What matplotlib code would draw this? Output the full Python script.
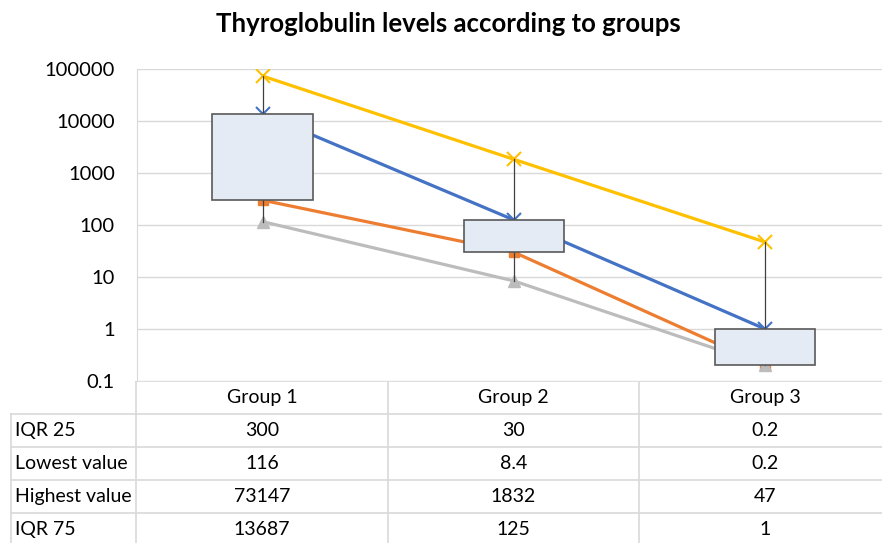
import numpy as np
import matplotlib
matplotlib.use('Agg')
import matplotlib.pyplot as plt
from matplotlib.patches import Rectangle

plt.rcParams['font.family'] = ['Lato', 'DejaVu Sans']

# data
groups = ['Group 1', 'Group 2', 'Group 3']
iqr25 = [300, 30, 0.2]
lowest = [116, 8.4, 0.2]
highest = [73147, 1832, 47]
iqr75 = [13687, 125, 1]

row_names = ['IQR 25', 'Lowest value', 'Highest value', 'IQR 75']
row_text = [['300', '30', '0.2'],
            ['116', '8.4', '0.2'],
            ['73147', '1832', '47'],
            ['13687', '125', '1']]

yticks = [0.1, 1, 10, 100, 1000, 10000, 100000]
yticklabels = ['0.1', '1', '10', '100', '1000', '10000', '100000']

W, H = 882, 543
fig = plt.figure(figsize=(W / 100, H / 100), dpi=100)

grid_c = '#D9D9D9'
xlo, xhi = -0.5, (882 - 262) / 251.5

ax = fig.add_axes([137 / W, (H - 381) / H, (W - 137) / W, 312 / H])
x = np.arange(len(groups))

# series lines (drawn under the boxes)
ax.plot(x, iqr75, color='#4472C4', lw=2.3, marker='x', ms=10, mew=1.5, zorder=2)
ax.plot(x, iqr25, color='#ED7D31', lw=2.3, marker='s', ms=7, zorder=2)
ax.plot(x, lowest, color='#BCBCBC', lw=2.3, marker='^', ms=8, zorder=2)
ax.plot(x, highest, color='#FFC000', lw=2.3, marker='x', ms=10, mew=1.5, zorder=2)

# high-low whiskers
for i in x:
    ax.plot([i, i], [lowest[i], highest[i]], color='#404040', lw=0.9, zorder=2.5)

# IQR boxes
for i in x:
    ax.add_patch(Rectangle((i - 0.2, iqr25[i]), 0.4, iqr75[i] - iqr25[i],
                           facecolor='#E4EBF5', edgecolor='#595959', lw=1.2, zorder=3))

ax.set_yscale('log')
ax.set_ylim(0.1, 100000)
ax.set_xlim(xlo, xhi)
ax.set_yticks(yticks)
ax.set_yticklabels(yticklabels, fontsize=14.5)
ax.minorticks_off()
ax.yaxis.set_tick_params(length=0, pad=16)
ax.set_xticks([])
ax.grid(axis='y', color=grid_c, lw=1)
ax.set_axisbelow(True)
for s in ['top', 'right', 'bottom']:
    ax.spines[s].set_visible(False)
ax.spines['left'].set_color(grid_c)

fig.text(448 / W, 1 - 24 / H, 'Thyroglobulin levels according to groups',
         ha='center', va='center', fontsize=18.5, fontweight='bold')

# data table under the plot
tab = fig.add_axes([10 / W, 0, (W - 10) / W, 162 / H])
tlo = (10 - 262) / 251.5
nrows = 162 / 33
tab.set_xlim(tlo, xhi)
tab.set_ylim(nrows, 0)
tab.axis('off')

tab.plot([xlo, xhi], [0, 0], color=grid_c, lw=1.2)
for r in range(1, 5):
    tab.plot([tlo, xhi], [r, r], color=grid_c, lw=1.2)
tab.plot([tlo + 0.002, tlo + 0.002], [1, nrows], color=grid_c, lw=1.2)
for xv in [xlo, 0.5, 1.5]:
    tab.plot([xv, xv], [0, nrows], color=grid_c, lw=1.2)

for i, g in enumerate(groups):
    tab.text(i, 0.5, g, ha='center', va='center', fontsize=14)
for r, name in enumerate(row_names):
    tab.text(tlo + 0.02, r + 1.5, name, ha='left', va='center', fontsize=14)
    for i in range(len(groups)):
        tab.text(i, r + 1.5, row_text[r][i], ha='center', va='center', fontsize=14)

fig.savefig('out.png', dpi=100)
